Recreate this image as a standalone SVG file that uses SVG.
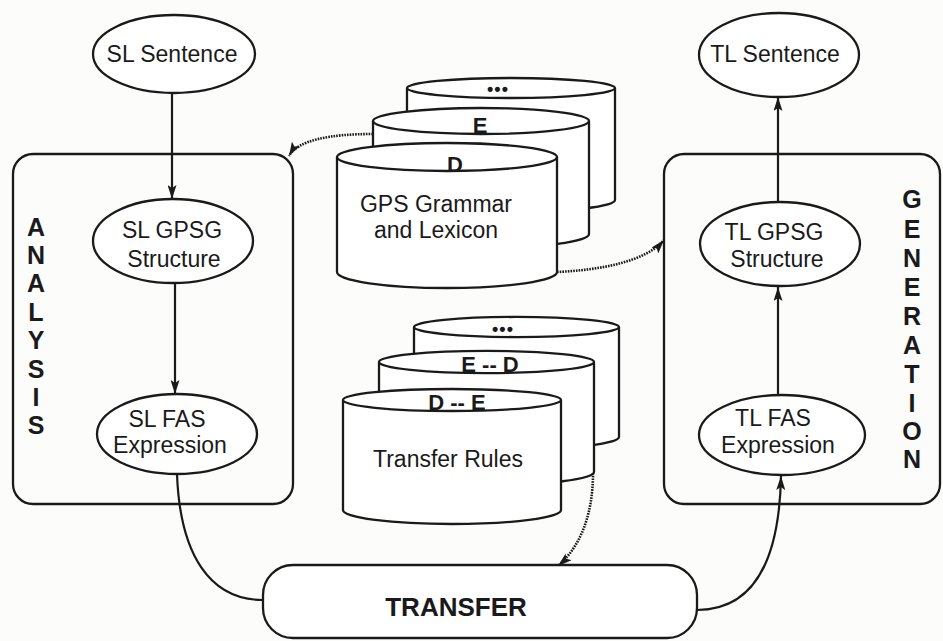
<svg xmlns="http://www.w3.org/2000/svg" width="943" height="641" viewBox="0 0 943 641">
  <defs>
    <marker id="arr" markerWidth="14" markerHeight="9" refX="14" refY="4.5" orient="auto" markerUnits="userSpaceOnUse">
      <path d="M0,0 L14,4.5 L0,9 L3,4.5 Z" fill="#1a1a1a"/>
    </marker>
    <style>
      .ln { fill: none; stroke: #1a1a1a; stroke-width: 2.2; }
      .dot { fill: none; stroke: #1a1a1a; stroke-width: 2.6; stroke-dasharray: 1.6 1.1; }
      .shape { fill: #ffffff; stroke: #1a1a1a; stroke-width: 2.3; }
      .edge { fill: none; stroke: #1a1a1a; stroke-width: 2.3; }
      .t { font-family: "Liberation Sans", Arial, sans-serif; font-size: 23px; fill: #1a1a1a; text-anchor: middle; }
      .b { font-family: "Liberation Sans", Arial, sans-serif; font-weight: bold; fill: #1a1a1a; text-anchor: middle; }
      .side { font-size: 25px; }
      .cyl { font-size: 22px; }
    </style>
  </defs>
  <rect width="943" height="641" fill="#fcfcfb"/>

  <g id="analysis">
    <rect class="edge" x="13" y="154" width="280" height="350" rx="20"/>
    <text class="b side" x="36" y="236">A</text>
    <text class="b side" x="36" y="264">N</text>
    <text class="b side" x="36" y="292">A</text>
    <text class="b side" x="36" y="321">L</text>
    <text class="b side" x="36" y="349">Y</text>
    <text class="b side" x="36" y="378">S</text>
    <text class="b side" x="36" y="406">I</text>
    <text class="b side" x="36" y="434">S</text>
  </g>

  <g id="generation">
    <rect class="edge" x="664" y="154" width="276" height="350" rx="20"/>
    <text class="b side" x="912" y="208">G</text>
    <text class="b side" x="912" y="238">E</text>
    <text class="b side" x="912" y="267">N</text>
    <text class="b side" x="912" y="296">E</text>
    <text class="b side" x="912" y="325">R</text>
    <text class="b side" x="912" y="354">A</text>
    <text class="b side" x="912" y="383">T</text>
    <text class="b side" x="912" y="412">I</text>
    <text class="b side" x="912" y="440">O</text>
    <text class="b side" x="912" y="468">N</text>
  </g>

  <g id="sl-sentence">
    <ellipse class="shape" cx="174" cy="54" rx="81" ry="39"/>
    <text class="t" x="172" y="62">SL Sentence</text>
  </g>
  <g id="sl-gpsg">
    <ellipse class="shape" cx="173" cy="241" rx="80" ry="42"/>
    <text class="t" x="172" y="238">SL GPSG</text>
    <text class="t" x="174" y="267">Structure</text>
  </g>
  <g id="sl-fas">
    <ellipse class="shape" cx="177" cy="434" rx="80" ry="40"/>
    <text class="t" x="167" y="427">SL FAS</text>
    <text class="t" x="170" y="453">Expression</text>
  </g>
  <g id="tl-sentence">
    <ellipse class="shape" cx="779" cy="55" rx="80" ry="42"/>
    <text class="t" x="775" y="62">TL Sentence</text>
  </g>
  <g id="tl-gpsg">
    <ellipse class="shape" cx="780" cy="244" rx="80" ry="42"/>
    <text class="t" x="774" y="240">TL GPSG</text>
    <text class="t" x="777" y="267">Structure</text>
  </g>
  <g id="tl-fas">
    <ellipse class="shape" cx="782" cy="435" rx="83" ry="40"/>
    <text class="t" x="773" y="426">TL FAS</text>
    <text class="t" x="778" y="453">Expression</text>
  </g>

  <g id="gps-grammar">
    <path class="shape" d="M407,88 L407,200 A104,12 0 0 0 615,200 L615,88 A104,10 0 0 0 407,88 Z"/>
    <path class="edge" d="M407,88 A104,10 0 0 0 615,88"/>
    <text class="b" x="498" y="95" font-size="18" letter-spacing="1">•••</text>
    <path class="shape" d="M373,121 L373,234 A108,14 0 0 0 589,234 L589,121 A108,13 0 0 0 373,121 Z"/>
    <path class="edge" d="M373,121 A108,13 0 0 0 589,121"/>
    <text class="b cyl" x="480" y="133">E</text>
    <path class="shape" d="M337,157 L337,272 A110,16 0 0 0 557,272 L557,157 A110,14 0 0 0 337,157 Z"/>
    <path class="edge" d="M337,157 A110,14 0 0 0 557,157"/>
    <text class="b cyl" x="455" y="172">D</text>
    <text class="t" x="436" y="212">GPS Grammar</text>
    <text class="t" x="436" y="238">and Lexicon</text>
  </g>

  <g id="transfer-rules">
    <path class="shape" d="M414,327 L414,437 A102,12 0 0 0 619,437 L619,327 A102,10 0 0 0 414,327 Z"/>
    <path class="edge" d="M414,327 A102,10 0 0 0 619,327"/>
    <text class="b" x="503" y="335" font-size="18" letter-spacing="1">•••</text>
    <path class="shape" d="M379,362 L379,472 A107,13 0 0 0 594,472 L594,362 A107,11 0 0 0 379,362 Z"/>
    <path class="edge" d="M379,362 A107,11 0 0 0 594,362"/>
    <text class="b cyl" x="490" y="372">E -- D</text>
    <path class="shape" d="M343,400 L343,510 A109,14 0 0 0 561,510 L561,400 A109,11 0 0 0 343,400 Z"/>
    <path class="edge" d="M343,400 A109,11 0 0 0 561,400"/>
    <text class="b cyl" x="457" y="410">D -- E</text>
    <text class="t" x="448" y="467">Transfer Rules</text>
  </g>

  <g id="transfer">
    <rect class="shape" x="263" y="565" width="434" height="73" rx="30"/>
    <text class="b" x="456" y="616" font-size="26">TRANSFER</text>
  </g>

  <g id="connectors">
    <path class="ln" d="M172,93 L172,199" marker-end="url(#arr)"/>
    <path class="ln" d="M175,283 L175,394" marker-end="url(#arr)"/>
    <path class="ln" d="M177,474 C180,555 210,600 263,600"/>
    <path class="ln" d="M697,610 C745,610 779,575 781,476" marker-end="url(#arr)"/>
    <path class="ln" d="M778,395 L778,287" marker-end="url(#arr)"/>
    <path class="ln" d="M778,202 L778,97" marker-end="url(#arr)"/>
    <path class="dot" d="M373,134 C330,134 298,140 289,156" marker-end="url(#arr)"/>
    <path class="dot" d="M557,272 C600,270 645,262 664,240" marker-end="url(#arr)"/>
    <path class="dot" d="M593,473 C593,512 582,545 558,566" marker-end="url(#arr)"/>
  </g>
</svg>
